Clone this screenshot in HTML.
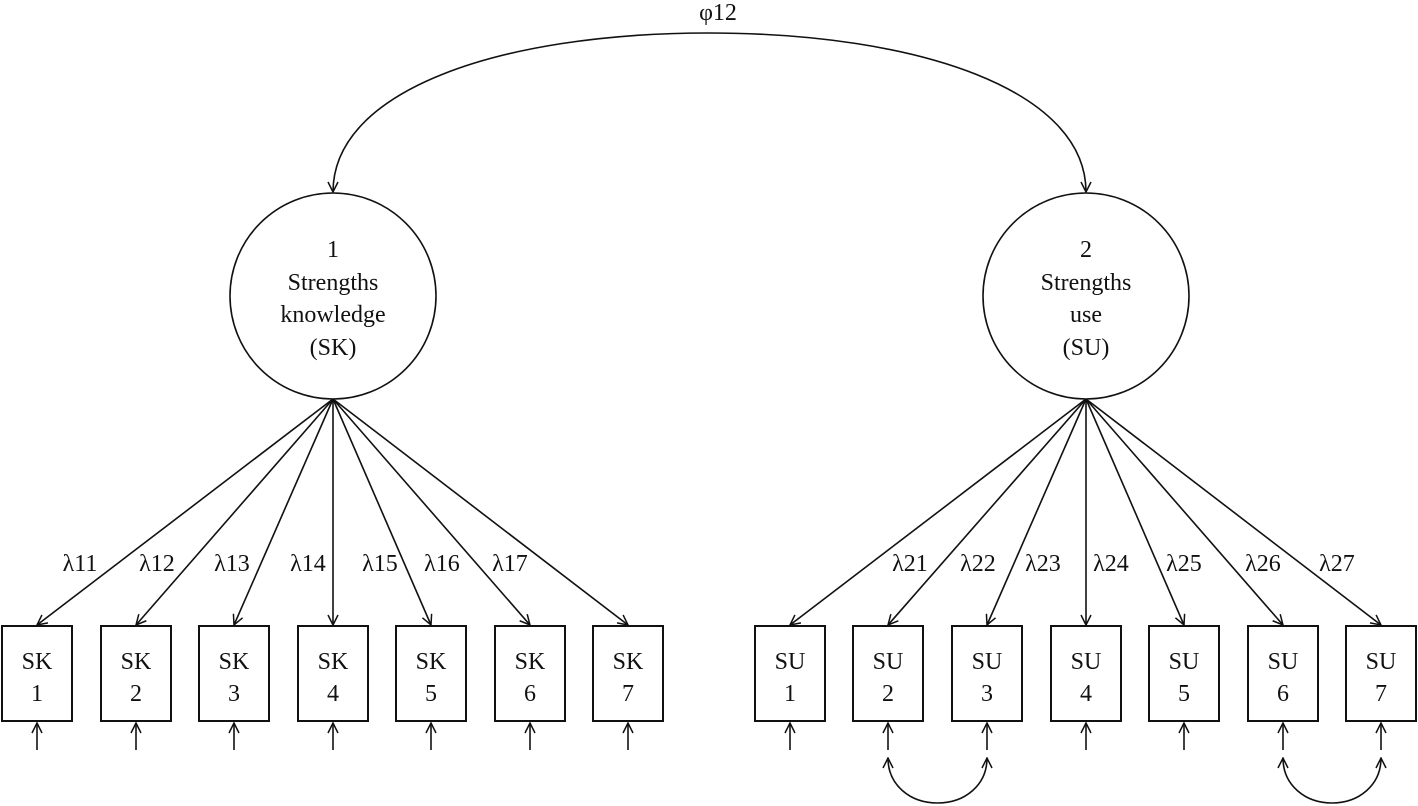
<!DOCTYPE html>
<html><head><meta charset="utf-8"><style>
html,body{margin:0;padding:0;background:#fff;}
svg{display:block;}
text{font-family:"Liberation Serif",serif;font-size:24px;fill:#111;text-anchor:middle;}
</style></head><body>
<svg width="1418" height="806" viewBox="0 0 1418 806" xmlns="http://www.w3.org/2000/svg">
<defs>
<marker id="a" viewBox="0 0 12 12" refX="11" refY="6" markerWidth="12" markerHeight="12" markerUnits="userSpaceOnUse" orient="auto">
<path d="M1,1 L11,6 L1,11" fill="none" stroke="#111" stroke-width="1.5"/>
</marker>
</defs>
<g stroke="#111" stroke-width="1.6" fill="none">
<path d="M709,33 C500,33 333,90 333,192" marker-end="url(#a)"/>
<path d="M709,33 C918,33 1086,90 1086,192" marker-end="url(#a)"/>
<circle cx="333" cy="296" r="103" fill="#fff"/>
<circle cx="1086" cy="296" r="103" fill="#fff"/>
<g marker-end="url(#a)">
<line x1="333" y1="399" x2="37" y2="625"/>
<line x1="333" y1="399" x2="136" y2="625"/>
<line x1="333" y1="399" x2="234" y2="625"/>
<line x1="333" y1="399" x2="333" y2="625"/>
<line x1="333" y1="399" x2="431" y2="625"/>
<line x1="333" y1="399" x2="530" y2="625"/>
<line x1="333" y1="399" x2="628" y2="625"/>
<line x1="1086" y1="399" x2="790" y2="625"/>
<line x1="1086" y1="399" x2="888" y2="625"/>
<line x1="1086" y1="399" x2="987" y2="625"/>
<line x1="1086" y1="399" x2="1086" y2="625"/>
<line x1="1086" y1="399" x2="1184" y2="625"/>
<line x1="1086" y1="399" x2="1283" y2="625"/>
<line x1="1086" y1="399" x2="1381" y2="625"/>
</g>
<g fill="#fff" stroke-width="2">
<rect x="2" y="626" width="70" height="95"/>
<rect x="101" y="626" width="70" height="95"/>
<rect x="199" y="626" width="70" height="95"/>
<rect x="298" y="626" width="70" height="95"/>
<rect x="396" y="626" width="70" height="95"/>
<rect x="495" y="626" width="70" height="95"/>
<rect x="593" y="626" width="70" height="95"/>
<rect x="755" y="626" width="70" height="95"/>
<rect x="853" y="626" width="70" height="95"/>
<rect x="952" y="626" width="70" height="95"/>
<rect x="1051" y="626" width="70" height="95"/>
<rect x="1149" y="626" width="70" height="95"/>
<rect x="1248" y="626" width="70" height="95"/>
<rect x="1346" y="626" width="70" height="95"/>
</g>
<g marker-end="url(#a)">
<line x1="37" y1="750" x2="37" y2="723"/>
<line x1="136" y1="750" x2="136" y2="723"/>
<line x1="234" y1="750" x2="234" y2="723"/>
<line x1="333" y1="750" x2="333" y2="723"/>
<line x1="431" y1="750" x2="431" y2="723"/>
<line x1="530" y1="750" x2="530" y2="723"/>
<line x1="628" y1="750" x2="628" y2="723"/>
<line x1="790" y1="750" x2="790" y2="723"/>
<line x1="888" y1="750" x2="888" y2="723"/>
<line x1="987" y1="750" x2="987" y2="723"/>
<line x1="1086" y1="750" x2="1086" y2="723"/>
<line x1="1184" y1="750" x2="1184" y2="723"/>
<line x1="1283" y1="750" x2="1283" y2="723"/>
<line x1="1381" y1="750" x2="1381" y2="723"/>
</g>
<path d="M937.5,803 C910,803 888,785 888,758" marker-end="url(#a)"/>
<path d="M937.5,803 C965,803 987,785 987,758" marker-end="url(#a)"/>
<path d="M1332,803 C1305,803 1283,785 1283,758" marker-end="url(#a)"/>
<path d="M1332,803 C1359,803 1381,785 1381,758" marker-end="url(#a)"/>
</g>
<text x="718" y="20">φ12</text>
<g style="font-size:25px">
<text x="333" y="257">1</text>
<text x="333" y="290">Strengths</text>
<text x="333" y="322">knowledge</text>
<text x="333" y="355">(SK)</text>
<text x="1086" y="257">2</text>
<text x="1086" y="290">Strengths</text>
<text x="1086" y="322">use</text>
<text x="1086" y="355">(SU)</text>
</g>
<g>
<text x="80" y="571">λ11</text>
<text x="157" y="571">λ12</text>
<text x="232" y="571">λ13</text>
<text x="308" y="571">λ14</text>
<text x="380" y="571">λ15</text>
<text x="442" y="571">λ16</text>
<text x="510" y="571">λ17</text>
<text x="910" y="571">λ21</text>
<text x="978" y="571">λ22</text>
<text x="1043" y="571">λ23</text>
<text x="1111" y="571">λ24</text>
<text x="1184" y="571">λ25</text>
<text x="1263" y="571">λ26</text>
<text x="1337" y="571">λ27</text>
</g>
<g>
<text x="37" y="669">SK</text><text x="37" y="701">1</text>
<text x="136" y="669">SK</text><text x="136" y="701">2</text>
<text x="234" y="669">SK</text><text x="234" y="701">3</text>
<text x="333" y="669">SK</text><text x="333" y="701">4</text>
<text x="431" y="669">SK</text><text x="431" y="701">5</text>
<text x="530" y="669">SK</text><text x="530" y="701">6</text>
<text x="628" y="669">SK</text><text x="628" y="701">7</text>
<text x="790" y="669">SU</text><text x="790" y="701">1</text>
<text x="888" y="669">SU</text><text x="888" y="701">2</text>
<text x="987" y="669">SU</text><text x="987" y="701">3</text>
<text x="1086" y="669">SU</text><text x="1086" y="701">4</text>
<text x="1184" y="669">SU</text><text x="1184" y="701">5</text>
<text x="1283" y="669">SU</text><text x="1283" y="701">6</text>
<text x="1381" y="669">SU</text><text x="1381" y="701">7</text>
</g>
</svg>
</body></html>
